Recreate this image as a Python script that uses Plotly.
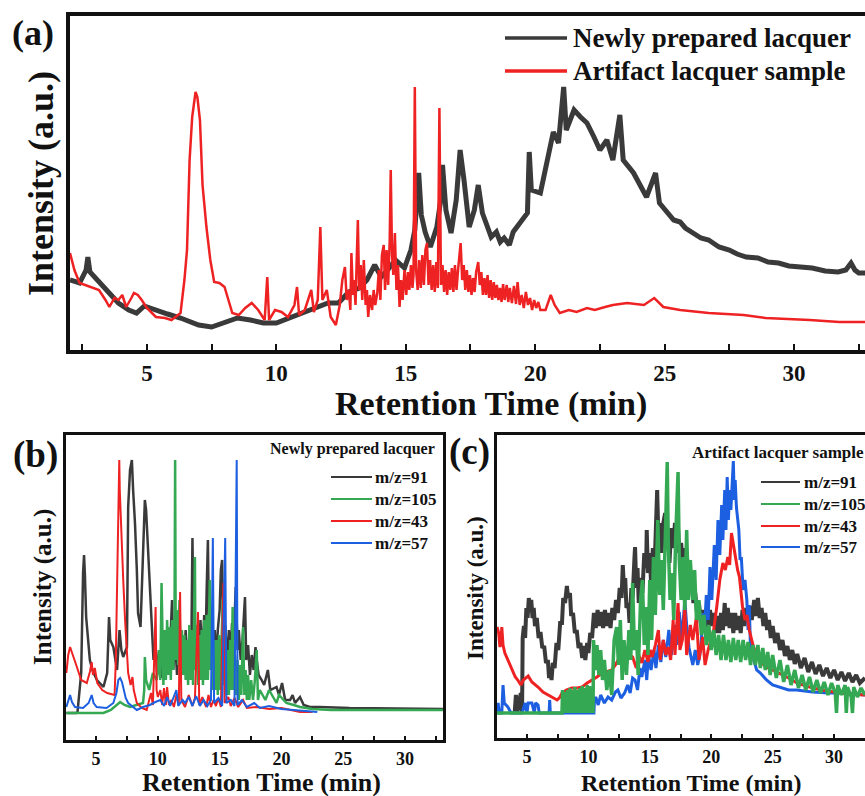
import plotly.graph_objects as go

W, H = 865, 796
FONT = "Liberation Serif"

# ---------------- Panel (a): total ion chromatograms ----------------
a_new_t = [2.03, 2.4, 2.65, 2.72, 2.8, 3.1, 3.5, 3.9, 4.3, 4.6, 4.9, 5.3, 5.8, 6.3, 7.0, 7.5, 8.0, 8.5,
           9.0, 9.5, 10.0, 10.5, 11.0, 11.5, 12.0, 12.4, 12.8, 13.2, 13.5, 13.8, 14.05, 14.3, 14.6,
           14.95, 15.2, 15.35, 15.5, 15.6, 15.75, 15.95, 16.2, 16.35, 16.42, 16.55, 16.75, 16.95,
           17.1, 17.25, 17.45, 17.65, 17.8, 17.96, 18.3, 18.5, 18.65, 18.8, 19.0, 19.15, 19.3, 19.5,
           19.7, 19.77, 19.85, 20.2, 20.45,
           20.7, 20.9, 21.1, 21.2, 21.5, 21.75, 22.0, 22.27, 22.5, 22.77, 23.0, 23.27, 23.4, 23.8,
           24.3, 24.65, 24.8, 25.35, 25.6, 25.8, 26.1, 26.4, 26.7, 27.1, 27.5, 27.8, 28.15, 28.6,
           29.0, 29.4, 29.8, 30.2, 30.7, 31.2, 31.7, 32.0, 32.2, 32.35, 32.5, 32.74]
a_new_v = [70, 67, 80, 93, 78, 70, 58, 47, 40, 37, 44, 41, 36, 32, 25, 23, 28, 32,
           30, 27, 27, 32, 38, 42, 47, 47, 58, 62, 70, 85, 73, 80, 90,
           82, 100, 120, 177, 135, 118, 103, 123, 150, 185, 140, 117, 150,
           200, 170, 123, 140, 165, 137, 113, 118, 108, 112, 105, 118, 123, 130,
           137, 198, 160, 157, 190,
           218, 207, 263, 220, 240, 233, 227, 213, 200, 210, 190, 235, 190, 177,
           153, 177, 147, 130, 128, 122, 117, 112, 110, 103, 100, 96, 93, 92,
           88, 87, 84, 83, 82, 79, 78, 80, 87, 80, 77, 77]

a_art_t = [2.03, 2.2, 2.4, 2.8, 3.15, 3.4, 3.55, 3.75, 3.9, 4.05, 4.2, 4.4, 4.5, 4.65, 4.8, 5.0,
           5.35, 5.7, 5.95, 6.3, 6.45, 6.55, 6.65, 6.75, 6.88, 6.95, 7.05, 7.15, 7.3, 7.45, 7.6,
           7.8, 8.0, 8.15, 8.3, 8.55, 8.8, 9.05, 9.3, 9.55, 9.65, 9.72, 9.95, 10.2, 10.45, 10.7,
           10.8, 10.88, 11.1, 11.35, 11.45, 11.6, 11.7, 11.78, 11.95, 12.1, 12.3, 12.45,
           12.55, 12.65, 12.72, 12.8, 12.86, 12.9, 12.96, 13.0, 13.06, 13.1, 13.15, 13.2, 13.26,
           13.32, 13.38, 13.45, 13.5, 13.55, 13.62, 13.7, 13.76, 13.82, 13.9, 13.96, 14.02, 14.08,
           14.15, 14.2, 14.26, 14.32, 14.38, 14.42, 14.47, 14.52, 14.58, 14.64, 14.7, 14.76, 14.82,
           14.88, 14.95, 15.02, 15.08, 15.14, 15.2, 15.26, 15.3, 15.35, 15.4, 15.46, 15.52, 15.58,
           15.64, 15.7, 15.76, 15.82, 15.88, 15.94, 16.0, 16.06, 16.12, 16.18, 16.24, 16.3, 16.36,
           16.42, 16.48, 16.54, 16.6, 16.66, 16.72, 16.78, 16.84, 16.9, 16.96, 17.02, 17.08, 17.12,
           17.18, 17.24, 17.3, 17.36, 17.42, 17.48, 17.54, 17.6, 17.66, 17.72, 17.8, 17.86, 17.92,
           17.98, 18.04, 18.1, 18.16, 18.22, 18.28, 18.34, 18.4, 18.46, 18.52, 18.58, 18.64, 18.7,
           18.76, 18.82, 18.9, 18.96, 19.02, 19.1, 19.18, 19.26, 19.32, 19.4, 19.48, 19.56, 19.64,
           19.72, 19.8, 19.88, 19.96, 20.04, 20.12, 20.2,
           20.4, 20.6, 20.75, 20.95, 21.3, 21.6, 22.0, 22.3, 22.7,
           23.0, 23.55, 24.2, 24.6, 24.95, 25.6, 26.7, 28.05, 28.9, 30.6, 31.75, 32.74]
a_art_v = [97, 80, 67, 63, 60, 50, 43, 52, 50, 55, 43, 52, 57, 55, 50, 42,
           33, 32, 30, 37, 70, 100, 190, 233, 258, 253, 230, 165, 123, 90, 68,
           67, 63, 50, 37, 35, 42, 47, 40, 30, 73, 30, 40, 38, 33, 45,
           63, 35, 40, 60, 38, 50, 123, 50, 60, 33, 25, 45,
           70, 83, 50, 60, 40, 97, 55, 70, 45, 85, 130, 60, 85,
           50, 90, 45, 60, 33, 55, 40, 60, 45, 57, 80, 50, 95,
           105, 60, 100, 65, 110, 180, 95, 75, 117, 60, 85, 43, 70,
           50, 80, 55, 78, 60, 85, 62, 75, 263, 80, 60, 90, 62,
           95, 65, 100, 107, 65, 90, 60, 85, 58, 88, 62, 242, 65,
           85, 58, 80, 55, 78, 60, 82, 58, 85, 60, 80, 100, 107,
           70, 85, 60, 80, 58, 75, 55, 72, 58, 78, 88, 65, 78,
           55, 72, 55, 75, 52, 70, 50, 68, 52, 65, 50, 62, 48,
           66, 50, 65, 48, 62, 47, 64, 46, 68, 45, 55, 42, 58,
           45, 52, 40, 50, 42, 48, 40,
           40, 55, 45, 37, 40, 38, 42, 40, 43,
           45, 47, 45, 52, 43, 40, 37, 35, 32, 30, 28, 28]

# ---------------- Panel (b): newly prepared lacquer, extracted ions ----------------
b91_t = [2.6, 3.4, 3.5, 3.8, 3.95, 4.03, 4.1, 4.2, 4.5, 4.7, 5.07, 5.6, 5.9, 6.05, 6.15, 6.4, 6.7,
         6.9, 7.05, 7.2, 7.5, 7.6, 7.75, 7.9, 8.0, 8.15, 8.3, 8.4, 8.6, 8.8, 8.95, 9.05, 9.2, 9.35,
         9.5, 9.65, 9.8, 9.95, 10.1, 10.25, 10.4, 10.55, 10.7, 10.85, 11.0, 11.15, 11.25, 11.4,
         11.55, 11.7, 11.85, 11.95, 12.1, 12.25, 12.4, 12.55, 12.7, 12.8, 12.9, 13.0, 13.15, 13.3,
         13.45, 13.6, 13.75, 13.85, 13.95, 14.05, 14.15, 14.3, 14.45, 14.6, 14.75, 14.85, 15.0,
         15.1, 15.2, 15.3, 15.45, 15.6, 15.75, 15.9, 16.0, 16.15, 16.3, 16.45, 16.55, 16.7, 16.85,
         17.0, 17.05, 17.15, 17.3, 17.45, 17.6, 17.75, 17.9, 18.0, 18.15, 18.4, 18.6, 18.9, 19.1,
         19.6, 19.8, 20.05, 20.3, 20.7, 20.9, 21.1, 21.5, 21.8, 22.3, 23.1, 25.5, 33.1]
b91_v = [27, 27, 28, 67, 167, 185, 165, 123, 80, 70, 60, 53, 67, 123, 100, 93, 70,
         110, 90, 83, 93, 233, 270, 280, 250, 217, 170, 127, 113, 200, 240, 230, 193, 150,
         113, 80, 95, 65, 90, 62, 95, 65, 100, 70, 95, 140, 70, 100,
         65, 105, 70, 100, 65, 110, 70, 105, 80, 202, 100, 75, 115, 80,
         120, 80, 125, 90, 150, 200, 95, 120, 75, 110, 80, 110, 130,
         170, 180, 95, 115, 80, 110, 85, 117, 100, 153, 90, 110, 80, 100,
         135, 143, 80, 95, 65, 85, 70, 93, 80, 65, 60, 55, 70, 50,
         53, 45, 57, 40, 40, 45, 37, 43, 35, 33, 33, 32, 31]

b105_t = [2.6, 5.6, 6.2, 6.95, 7.3, 7.75, 8.8, 8.9, 8.95, 9.05, 9.3, 9.6, 9.9, 10.0, 10.1, 10.2,
          10.3, 10.35, 10.45, 10.55, 10.65, 10.75, 10.85, 10.95, 11.05, 11.15, 11.25, 11.35, 11.4,
          11.45, 11.55, 11.65, 11.75, 11.85, 11.95, 12.05, 12.15, 12.25, 12.35, 12.45, 12.55,
          12.65, 12.75, 12.85, 12.95, 13.0, 13.05, 13.15, 13.25, 13.35, 13.45, 13.55, 13.65,
          13.75, 13.85, 13.95, 14.05, 14.15, 14.2, 14.25, 14.35, 14.45, 14.55, 14.65, 14.75,
          14.85, 14.95, 15.05, 15.15, 15.25, 15.35, 15.45, 15.55, 15.65, 15.75, 15.85, 15.95,
          16.05, 16.15, 16.25, 16.35, 16.45, 16.55, 16.65, 16.75, 16.9, 17.0, 17.1, 17.2, 17.3,
          17.4, 17.55, 17.7, 17.85, 18.0, 18.1, 18.25, 18.4, 18.7, 19.0, 19.3, 19.6, 19.8, 20.4,
          21.0, 21.5, 22.5, 24.0, 33.1]
b105_v = [27, 27, 30, 38, 35, 33, 37, 50, 83, 60, 50, 67, 60, 70, 90, 60,
          157, 100, 55, 110, 60, 120, 65, 113, 60, 120, 70, 125, 280,
          80, 130, 75, 140, 70, 110, 65, 105, 60, 100, 55, 115,
          60, 110, 55, 120, 183, 70, 115, 55, 105, 60, 110, 55,
          120, 60, 125, 60, 130, 160, 70, 110, 50, 100, 50, 100,
          45, 105, 50, 110, 140, 55, 95, 45, 90, 45, 100, 50,
          133, 50, 85, 45, 80, 40, 75, 45, 113, 45, 70, 40, 65,
          40, 60, 40, 60, 90, 40, 50, 47, 40, 50, 43, 37, 45, 37,
          35, 33, 31, 30, 30]

b43_t = [2.6, 2.75, 2.9, 3.1, 3.45, 3.8, 4.25, 4.5, 4.65, 4.75, 4.9, 5.1, 5.5, 5.9, 6.5, 6.6, 6.65,
         6.75, 6.8, 6.88, 6.92, 7.0, 7.1, 7.2, 7.35, 7.5, 7.6, 7.8, 7.95, 8.05, 8.3, 8.7, 9.1, 9.3,
         9.45, 9.6, 9.75, 9.82, 9.9, 10.0, 10.2, 10.35, 10.5, 10.65, 10.75, 10.9, 11.1, 11.3, 11.5,
         11.7, 11.8, 11.9, 12.2, 12.5, 12.8, 13.0, 13.25, 13.35, 13.6, 13.9, 14.1, 14.3, 14.5,
         14.7, 14.9, 15.1, 15.3, 15.4, 15.7, 15.9, 16.2, 16.5, 16.9, 17.2, 18.0, 19.0, 20.0,
         21.5, 22.5]
b43_v = [67, 85, 93, 85, 73, 60, 57, 68, 78, 65, 72, 57, 50, 47, 45, 80, 120,
         180, 227, 280, 250, 220, 187, 160, 120, 90, 67, 55, 63, 50, 37, 32, 30, 40,
         47, 35, 90, 133, 50, 43, 50, 35, 52, 35, 53, 35, 40, 33, 45,
         35, 148, 40, 33, 45, 34, 42, 128, 35, 43, 33, 45, 33, 40,
         34, 42, 33, 157, 37, 43, 34, 42, 33, 40, 32, 33, 31, 32,
         28, 28]

b57_t = [2.6, 2.75, 2.9, 3.05, 3.3, 3.95, 4.4, 4.65, 4.8, 5.05, 5.85, 6.4, 6.65, 6.8, 6.95, 7.1,
         7.2, 7.4, 7.6, 8.3, 8.8, 9.35, 9.8, 10.2, 10.5, 10.75, 11.0, 11.25, 11.5, 11.65, 12.0,
         12.2, 12.5, 12.8, 13.1, 13.4, 13.7, 14.0, 14.3, 14.45, 14.55, 14.9, 15.2, 15.45, 15.55,
         15.9, 16.2, 16.38, 16.45, 16.8, 17.2, 17.8, 18.25, 19.0, 20.0, 21.0, 22.9]
b57_v = [33, 40, 45, 38, 33, 32, 37, 45, 37, 33, 32, 37, 47, 60, 62, 58,
         53, 42, 37, 30, 33, 35, 38, 40, 34, 43, 34, 43, 50, 34, 40,
         37, 43, 34, 44, 34, 40, 34, 40, 202, 37, 42, 34, 202, 37,
         40, 34, 280, 35, 40, 33, 37, 32, 34, 31, 30, 28]

# ---------------- Panel (c): artifact lacquer sample, extracted ions ----------------
c91_t = [4.0, 4.1, 4.2, 4.35, 4.5, 4.6, 4.65, 4.75, 4.85, 4.95, 5.05, 5.15, 5.25, 5.35, 5.45, 5.55,
         5.65, 5.8, 5.95, 6.1, 6.25, 6.4, 6.55, 6.7, 6.8, 6.9, 7.0, 7.1, 7.25, 7.4, 7.55, 7.7, 7.85,
         7.95, 8.1, 8.25, 8.35, 8.5, 8.6, 8.75, 8.9, 9.05, 9.2, 9.35, 9.5, 9.65, 9.75, 9.9, 10.0,
         10.15, 10.3, 10.45, 10.6, 10.75, 10.9, 11.05, 11.2, 11.35, 11.5, 11.65, 11.8, 11.95,
         12.1, 12.25, 12.4, 12.55, 12.7, 12.8, 12.9, 13.0, 13.1, 13.25, 13.35, 13.5, 13.6, 13.75,
         13.8, 13.9, 14.0, 14.1, 14.25, 14.4, 14.55, 14.7, 14.75, 14.85, 15.0, 15.1, 15.25, 15.4,
         15.5, 15.6, 15.7, 15.85, 15.95, 16.1, 16.25, 16.35, 16.5, 16.6, 16.75, 16.9, 17.05,
         17.15, 17.3, 17.4, 17.55, 17.7, 17.85, 17.95, 18.1, 18.25, 18.4, 18.55, 18.7, 18.85,
         19.0, 19.15, 19.3, 19.45, 19.6, 19.75, 19.9, 20.05, 20.2, 20.35, 20.5, 20.65, 20.8,
         20.95, 21.1, 21.2, 21.35, 21.5, 21.65, 21.8, 21.95, 22.1, 22.25, 22.4, 22.55, 22.7,
         22.85, 23.0, 23.15, 23.3, 23.5, 23.65, 23.8, 23.95, 24.1, 24.25, 24.4, 24.55, 24.7,
         24.85, 25.0, 25.2, 25.4, 25.6, 25.8, 26.0, 26.2, 26.4, 26.6, 26.8, 27.0, 27.3, 27.6,
         27.9, 28.2, 28.5, 28.8, 29.1, 29.4, 29.7, 30.0, 30.3, 30.6, 30.9, 31.2, 31.5, 31.8,
         32.1, 32.52]
c91_v = [25, 43, 25, 38, 45, 25, 100, 112, 100, 130, 120, 140, 126, 138, 120, 130,
         112, 120, 100, 106, 90, 92, 75, 78, 60, 70, 58, 75, 70, 95, 88, 115, 115,
         140, 135, 152, 140, 145, 122, 125, 105, 108, 90, 95, 80, 92, 78, 95, 85,
         105, 100, 125, 110, 128, 112, 126, 110, 128, 112, 125, 110, 130,
         118, 138, 125, 150, 140, 173, 150, 160, 130, 135, 115, 150, 140, 180,
         191, 150, 170, 135, 160, 145, 185, 170, 208, 165, 185, 155, 190, 175,
         220, 248, 200, 215, 185, 215, 225, 190, 205, 175, 210, 190, 215,
         195, 210, 185, 195, 170, 190, 165, 178, 150, 160, 135, 145, 125,
         135, 115, 128, 110, 125, 110, 128, 112, 125, 105, 122, 105, 125,
         108, 135, 112, 130, 110, 125, 105, 125, 108, 122, 105, 128, 112,
         130, 115, 132, 118, 138, 122, 140, 120, 130, 112, 125, 108, 118,
         100, 112, 95, 105, 88, 98, 82, 92, 78, 88, 74, 84, 70, 80,
         66, 76, 64, 73, 62, 70, 60, 68, 58, 66, 57, 65, 56, 63,
         55, 60]

c105_t = [2.56, 7.85, 7.9, 8.0, 8.1, 8.2, 8.3, 8.4, 8.5, 8.6, 8.7, 8.8, 8.9, 9.0, 9.1, 9.2, 9.3,
          9.4, 9.5, 9.6, 9.7, 9.8, 9.9, 10.0, 10.1, 10.2, 10.3, 10.38, 10.42, 10.55, 10.7, 10.85,
          11.0, 11.15, 11.3, 11.5, 11.7, 11.9, 12.1, 12.3, 12.45, 12.6, 12.75, 12.9, 13.1, 13.3,
          13.45, 13.6, 13.75, 13.9, 14.05, 14.25, 14.4, 14.55, 14.7, 14.85, 15.0, 15.15, 15.3,
          15.45, 15.65, 15.8, 15.95, 16.1, 16.3, 16.42, 16.5, 16.65, 16.8, 16.95, 17.1, 17.3,
          17.4, 17.55, 17.7, 17.85, 18.0, 18.15, 18.3, 18.5, 18.65, 18.8, 19.0, 19.2, 19.4, 19.6,
          19.8, 20.0, 20.2, 20.4, 20.6, 20.8, 21.0, 21.2, 21.4, 21.6, 21.8, 22.0, 22.2, 22.4,
          22.6, 22.8, 23.0, 23.2, 23.4, 23.6, 23.8, 24.0, 24.2, 24.4, 24.6, 24.8, 25.0, 25.3,
          25.6, 25.9, 26.2, 26.5, 26.8, 27.1, 27.4, 27.7, 28.0, 28.3, 28.6, 28.9, 29.2, 29.5,
          29.8, 30.1, 30.2, 30.3, 30.6, 30.9, 31.0, 31.1, 31.4, 31.5, 31.6, 31.9, 32.2, 32.52]
c105_v = [25, 25, 48, 25, 46, 25, 48, 25, 50, 25, 48, 25, 51, 25, 48, 25, 50,
          25, 52, 25, 50, 25, 53, 25, 52, 25, 50, 25, 98, 68, 93, 63,
          88, 58, 78, 48, 68, 43, 98, 111, 73, 118, 58, 98, 63, 108,
          78, 155, 88, 108, 63, 138, 158, 93, 131, 83, 158, 98, 181,
          123, 218, 143, 178, 128, 218, 276, 198, 138, 165, 118, 198, 266,
          178, 138, 181, 128, 208, 138, 178, 138, 168, 118, 138, 103, 123, 93,
          113, 88, 108, 83, 103, 78, 103, 78, 98, 76, 100, 78, 98, 76,
          98, 78, 96, 73, 93, 73, 93, 70, 90, 68, 86, 63, 83, 60,
          78, 56, 73, 53, 68, 50, 63, 48, 61, 46, 58, 45, 56, 43,
          55, 45, 25, 53, 43, 53, 25, 51, 41, 25, 51, 41, 50, 43]

c43_t = [2.56, 2.7, 2.8, 2.9, 2.95, 3.05, 3.2, 3.5, 3.8, 4.05, 4.25, 4.5, 4.7, 5.1, 5.4, 5.9, 6.3,
         6.7, 7.1, 7.45, 7.7, 7.85, 8.2, 8.65, 9.1, 9.5, 9.9, 10.35, 10.7, 11.1, 11.5, 11.9, 12.2,
         12.55, 12.8, 13.1, 13.35, 13.6, 13.9, 14.1, 14.35, 14.6, 14.85, 15.05, 15.2, 15.45, 15.7,
         15.85, 16.1, 16.3, 16.5, 16.7, 16.9, 17.05, 17.3, 17.45, 17.65, 17.85, 18.0, 18.3, 18.5,
         18.8, 19.0, 19.3, 19.5, 19.75, 20.0, 20.2, 20.45, 20.7, 20.95, 21.15, 21.35, 21.5, 21.65,
         21.8, 21.95, 22.15, 22.3, 22.45, 22.55, 22.75, 22.9, 23.1, 23.4, 23.7, 24.0, 24.5, 25.0,
         25.6, 26.3, 27.0, 28.0, 29.0, 30.0, 31.0, 32.52]
c43_v = [111, 105, 91, 98, 111, 93, 85, 76, 68, 61, 58, 53, 58, 62, 56, 51, 46,
         43, 40, 38, 41, 45, 48, 50, 50, 51, 55, 58, 61, 65, 66, 68, 73,
         81, 76, 75, 83, 81, 70, 83, 75, 88, 76, 88, 81, 93, 108,
         78, 98, 83, 91, 78, 118, 83, 135, 88, 98, 131, 83, 113, 98,
         121, 78, 101, 73, 88, 98, 108, 131, 158, 175, 168, 181, 173, 205,
         193, 183, 168, 161, 143, 131, 118, 123, 108, 93, 83, 76, 71, 68,
         65, 60, 55, 51, 48, 46, 44, 43]

c57_t = [2.56, 2.65, 2.75, 2.95, 3.05, 3.15, 3.45, 3.7, 4.6, 4.85, 5.0, 5.1, 5.4, 5.6, 5.7, 5.9,
         6.0, 6.8, 6.85, 6.9, 10.45, 10.5, 10.6, 10.8, 11.0, 11.3, 11.6, 11.9, 12.2, 12.4, 12.65,
         12.95, 13.2, 13.4, 13.6, 13.8, 14.0, 14.2, 14.35, 14.6, 14.75, 14.9, 15.1, 15.35, 15.5,
         15.7, 15.9, 16.1, 16.3, 16.55, 16.75, 17.0, 17.2, 17.4, 17.6, 17.85, 18.0, 18.2, 18.5,
         18.7, 18.9, 19.05, 19.2, 19.3, 19.45, 19.6, 19.75, 19.9, 20.05, 20.25, 20.4, 20.55, 20.7,
         20.85, 20.95, 21.1, 21.2, 21.3, 21.4, 21.5, 21.6, 21.7, 21.8, 21.88, 21.95, 22.05, 22.15,
         22.25, 22.35, 22.45, 22.6, 22.75, 22.9, 23.0, 23.1, 23.2, 23.4, 23.55, 23.7, 24.0, 24.5,
         25.0, 25.6, 26.3, 26.95, 28.25, 29.6, 31.0, 32.52]
c57_v = [25, 35, 25, 25, 53, 35, 31, 25, 25, 35, 25, 35, 35, 25, 35, 33,
         25, 25, 38, 25, 25, 38, 41, 33, 43, 35, 41, 38, 46, 48, 40,
         45, 53, 45, 60, 58, 48, 70, 61, 78, 58, 83, 68, 88, 70,
         93, 76, 98, 81, 108, 83, 113, 93, 126, 98, 138, 113, 90, 73,
         88, 73, 81, 98, 125, 108, 143, 118, 171, 138, 193, 158, 218, 183,
         233, 198, 248, 208, 261, 218, 248, 228, 263, 277, 238, 258, 231, 218,
         208, 178, 181, 148, 158, 138, 108, 133, 88, 81, 73, 68, 65, 58,
         53, 51, 48, 48, 46, 45, 45, 43]

# ---------------- styling ----------------
C_BLACK = "#3a3a3a"
C_RED = "#ee2222"
C_GREEN = "#34a853"
C_BLUE = "#1c5fe0"

fig = go.Figure()


def line(x, y, color, width, xa, ya):
    fig.add_trace(go.Scatter(x=x, y=y, mode="lines", line=dict(color=color, width=width),
                             xaxis=xa, yaxis=ya, showlegend=False, hoverinfo="skip"))


# (a)
line(a_new_t, a_new_v, C_BLACK, 5, "x", "y")
line(a_art_t, a_art_v, C_RED, 2.5, "x", "y")
# (b)
line(b91_t, b91_v, C_BLACK, 2.5, "x2", "y2")
line(b105_t, b105_v, C_GREEN, 2.5, "x2", "y2")
line(b43_t, b43_v, C_RED, 2, "x2", "y2")
line(b57_t, b57_v, C_BLUE, 2, "x2", "y2")
# (c)
line(c91_t, c91_v, C_BLACK, 4, "x3", "y3")
line(c57_t, c57_v, C_BLUE, 3, "x3", "y3")
line(c43_t, c43_v, C_RED, 3, "x3", "y3")
line(c105_t, c105_v, C_GREEN, 3.5, "x3", "y3")


def px(x):
    return x / W


def py(y):
    return 1 - y / H


def xaxis(domain, rng, lw, fsize, tlen):
    return dict(domain=domain, range=rng, showline=True, linewidth=lw, linecolor="#111",
                mirror=True, ticks="inside", ticklen=tlen, tickwidth=2, tickcolor="#111",
                tick0=0, dtick=5, showgrid=False, zeroline=False,
                tickfont=dict(family=FONT, size=fsize, color="#111", weight="bold"),
                minor=dict(dtick=2.5, ticks="inside", ticklen=tlen, tickwidth=2, tickcolor="#111"))


def yaxis(domain, rng, lw, mirror):
    return dict(domain=domain, range=rng, showline=True, linewidth=lw, linecolor="#111",
                mirror=mirror, showticklabels=False, ticks="", showgrid=False, zeroline=False)


fig.update_layout(
    width=W, height=H, margin=dict(l=0, r=0, t=0, b=0),
    paper_bgcolor="white", plot_bgcolor="white",
    xaxis=dict(xaxis([px(70), 1.0], [2.03, 32.74], 3.5, 23, 6), anchor="y"),
    yaxis=dict(yaxis([py(350), py(16)], [0, 334], 3.5, False), anchor="x"),
    xaxis2=dict(xaxis([px(66), px(443)], [2.57, 33.07], 3, 18, 4), anchor="y2"),
    yaxis2=dict(yaxis([py(740), py(435)], [0, 305], 3, True), anchor="x2"),
    xaxis3=dict(xaxis([px(497), 1.0], [2.56, 32.52], 3, 18, 4), anchor="y3"),
    yaxis3=dict(yaxis([py(738), py(435)], [0, 303], 3, False), anchor="x3"),
)


def text(s, x, y, size, xanchor="center", angle=0):
    fig.add_annotation(text=s, x=px(x), y=py(y), xref="paper", yref="paper", showarrow=False,
                       xanchor=xanchor, yanchor="middle", textangle=angle, borderpad=0,
                       font=dict(family=FONT, size=size, color="#111", weight="bold"))


def legline(x0, x1, y, color, width):
    fig.add_shape(type="line", xref="paper", yref="paper", x0=px(x0), x1=px(x1), y0=py(y), y1=py(y),
                  line=dict(color=color, width=width))


# panel labels
text("(a)", 33, 33, 36)
text("(b)", 35, 455, 37)
text("(c)", 469, 452, 37)

# axis titles
text("Retention Time (min)", 491, 404, 34)
text("Intensity (a.u.)", 41, 184, 36, angle=-90)
text("Retention Time (min)", 261, 782, 26)
text("Intensity (a.u.)", 43, 587, 25, angle=-90)
text("Retention Time (min)", 691, 783, 24)
text("Intensity (a.u.)", 475, 588, 23, angle=-90)

# legend (a)
legline(505, 567, 38, C_BLACK, 3.5)
legline(505, 567, 71, C_RED, 3.5)
text("Newly prepared lacquer", 572, 38, 27, xanchor="left")
text("Artifact lacquer sample", 572, 71, 27, xanchor="left")

# legend (b)
text("Newly prepared lacquer", 436, 449, 16, xanchor="right")
for name, col, yy in [("m/z=91", C_BLACK, 477), ("m/z=105", C_GREEN, 499),
                      ("m/z=43", C_RED, 521), ("m/z=57", C_BLUE, 543)]:
    legline(331, 372, yy, col, 2)
    text(name, 374, yy, 17, xanchor="left")

# legend (c)
text("Artifact lacquer sample", 691, 452, 17, xanchor="left")
for name, col, yy in [("m/z=91", C_BLACK, 482), ("m/z=105", C_GREEN, 504),
                      ("m/z=43", C_RED, 526), ("m/z=57", C_BLUE, 547)]:
    legline(761, 800, yy, col, 2)
    text(name, 803, yy, 17, xanchor="left")

fig.write_html("out.html")
